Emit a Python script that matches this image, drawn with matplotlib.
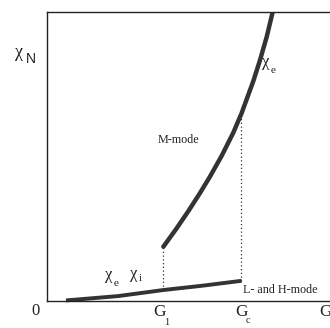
import matplotlib
matplotlib.use("Agg")
import matplotlib.pyplot as plt
from matplotlib.transforms import ScaledTranslation

# ---- data ----
g_upper = [1.003, 1.118, 1.218, 1.319, 1.405, 1.506, 1.606, 1.678, 1.778, 1.836, 1.894, 1.945]
chi_upper = [0.188, 0.252, 0.311, 0.374, 0.431, 0.503, 0.583, 0.651, 0.761, 0.834, 0.915, 1.000]
g_lower = [0.164, 0.612, 1.003, 1.340, 1.678]
chi_lower = [0.002, 0.017, 0.038, 0.053, 0.070]
G1, Gc, Gend = 1.0, 1.675, 2.345
dot_top = [0.188, 0.645]
dot_bottom = [0.038, 0.069]

INK = "#222222"
SERIF = "Liberation Serif"

fig = plt.figure(figsize=(3.30, 3.28), dpi=100)
W, H = 330, 328
left, bottom, top = 47, 301, 12.3
ax = fig.add_axes([left / W, (H - bottom) / H, (345 - left) / W, (bottom - top) / H])
ax.set_xlim(0, (345 - left) / 116)
ax.set_ylim(0, 1)
for s in ["left", "bottom", "top"]:
    ax.spines[s].set_linewidth(1.0)
    ax.spines[s].set_color(INK)
ax.spines["right"].set_visible(False)
ax.set_xticks([])
ax.set_yticks([])

ax.plot(g_upper, chi_upper, color="#333333", lw=3.2, solid_capstyle="round",
        solid_joinstyle="round", clip_on=True)
ax.plot(g_lower, chi_lower, color="#333333", lw=2.8, solid_capstyle="butt", clip_on=False)
ax.vlines([G1, Gc], dot_bottom, dot_top, colors="#333333", linestyles=(0, (1, 2)), lw=0.9)


def sub_text(x, y, main, sub, size=12, subsize=8, dx=0, dy=0, mfam=SERIF, sfam=SERIF, ha="left"):
    ax.text(x, y, main, fontsize=size, family=mfam, color=INK, ha=ha, va="baseline", clip_on=False)
    if sub:
        off = ScaledTranslation(dx / 72, dy / 72, fig.dpi_scale_trans)
        ax.text(x, y, sub, fontsize=subsize, family=sfam, color=INK, ha="left", va="baseline",
                transform=ax.transData + off, clip_on=False)


# axis labels
sub_text(-0.276, 0.845, "χ", "N", size=13, subsize=10, dx=8.0, dy=-4.5, sfam="Liberation Sans")
sub_text(-0.103, -0.048, "0", None, size=12, ha="center")
sub_text(G1 - 0.087, -0.052, "G", "1", size=12.5, subsize=7.5, dx=7.8, dy=-6.5)
sub_text(Gc - 0.055, -0.052, "G", "c", size=12.5, subsize=7.5, dx=8.0, dy=-5.0)
sub_text(Gend, -0.052, "G", None, size=12.5)

# annotations
sub_text(0.955, 0.547, "M-mode", None, size=8.7)
sub_text(1.85, 0.815, "χ", "e", size=12, subsize=8, dx=6.3, dy=-5.0)
sub_text(0.5, 0.075, "χ", "e", size=12, subsize=8, dx=6.3, dy=-5.0)
sub_text(0.715, 0.08, "χ", "i", size=12, subsize=8, dx=6.3, dy=-2.5)
sub_text(1.687, 0.028, "L- and H-mode", None, size=8.7)

fig.savefig("out.png", dpi=100, facecolor="white")
